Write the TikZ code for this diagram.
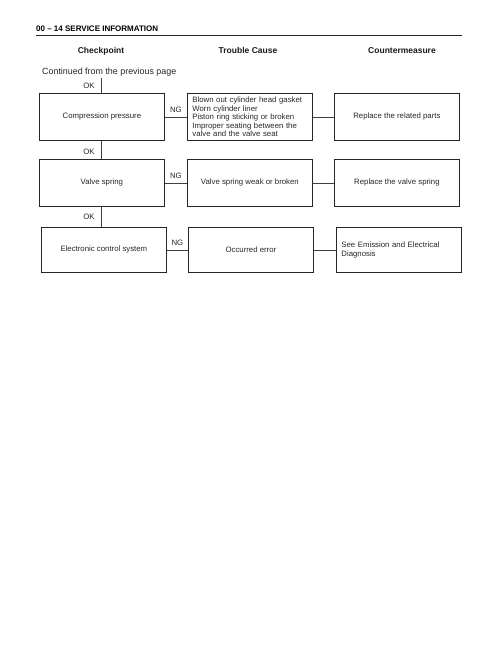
\documentclass[tikz,border=0pt]{standalone}
\usepackage{fontspec}
\setmainfont{Liberation Sans}
\newcommand{\boxfont}{\fontsize{7.8}{8.6}\selectfont}
\newcommand{\headfont}{\fontsize{8.5}{10}\selectfont\bfseries}
\begin{document}
\begin{tikzpicture}[x=1pt,y=-1pt,
  box/.style={draw=black!85, line width=0.8pt, minimum width=125pt, minimum height=47pt,
    inner sep=0pt, anchor=north west, font=\boxfont, align=center, text=black!85},
  lbox/.style={box, align=left, text width=115pt, inner xsep=5pt},
  conn/.style={draw=black!75, line width=0.7pt},
  lab/.style={font=\boxfont, text=black!85, inner sep=1pt},
  colhead/.style={font=\headfont, text=black!90, anchor=base, inner sep=0pt}]
\useasboundingbox (0,0) rectangle (499,646);
% header
\node[anchor=base west, inner sep=0pt, font=\fontsize{8}{10}\selectfont\bfseries] (title) at (36,31) {00 -- 14 SERVICE INFORMATION};
\draw[line width=1.3pt, black!85] (36,35.5) coordinate (r1) -- (462,35.5) coordinate (r2);
\node[colhead] (h1) at (101,53) {Checkpoint};
\node[colhead] (h2) at (248,53) {Trouble Cause};
\node[colhead] (h3) at (402,53) {Countermeasure};
\node[anchor=west, inner sep=0pt, font=\fontsize{8.9}{10}\selectfont, text=black!85] (cont) at (42,72) {Continued from the previous page};
\coordinate (start) at (101,78);
% row 1
\node[box] (cp) at (39,93) {Compression pressure};
\node[lbox] (tc1) at (187,93) {Blown out cylinder head gasket\\Worn cylinder liner\\Piston ring sticking or broken\\Improper seating between the\\valve and the valve seat};
\node[box] (cm1) at (334,93) {Replace the related parts};
% row 2
\node[box] (vs) at (39,159) {Valve spring};
\node[box] (tc2) at (187,159) {Valve spring weak or broken};
\node[box] (cm2) at (334,159) {Replace the valve spring};
% row 3
\node[box, minimum height=45pt] (ecs) at (41,227) {Electronic control system};
\node[box, minimum height=45pt] (tc3) at (188,227) {Occurred error};
\node[lbox, minimum height=45pt] (cm3) at (336,227) {See Emission and Electrical\\Diagnosis};
% connectors
\draw[conn] (start) -- node[lab, left=5pt] {OK} (start |- cp.north);
\draw[conn] (cp.east) -- node[lab, above=2.5pt] {NG} (tc1.west);
\draw[conn] (tc1.east) -- (cm1.west);
\draw[conn] (start |- cp.south) -- node[lab, left=5pt, pos=0.6] {OK} (start |- vs.north);
\draw[conn] (vs.east) -- node[lab, above=2.5pt] {NG} (tc2.west);
\draw[conn] (tc2.east) -- (cm2.west);
\draw[conn] (start |- vs.south) -- node[lab, left=5pt] {OK} (start |- ecs.north);
\draw[conn] (ecs.east) -- node[lab, above=2.5pt] {NG} (tc3.west);
\draw[conn] (tc3.east) -- (cm3.west);
\end{tikzpicture}
\end{document}
